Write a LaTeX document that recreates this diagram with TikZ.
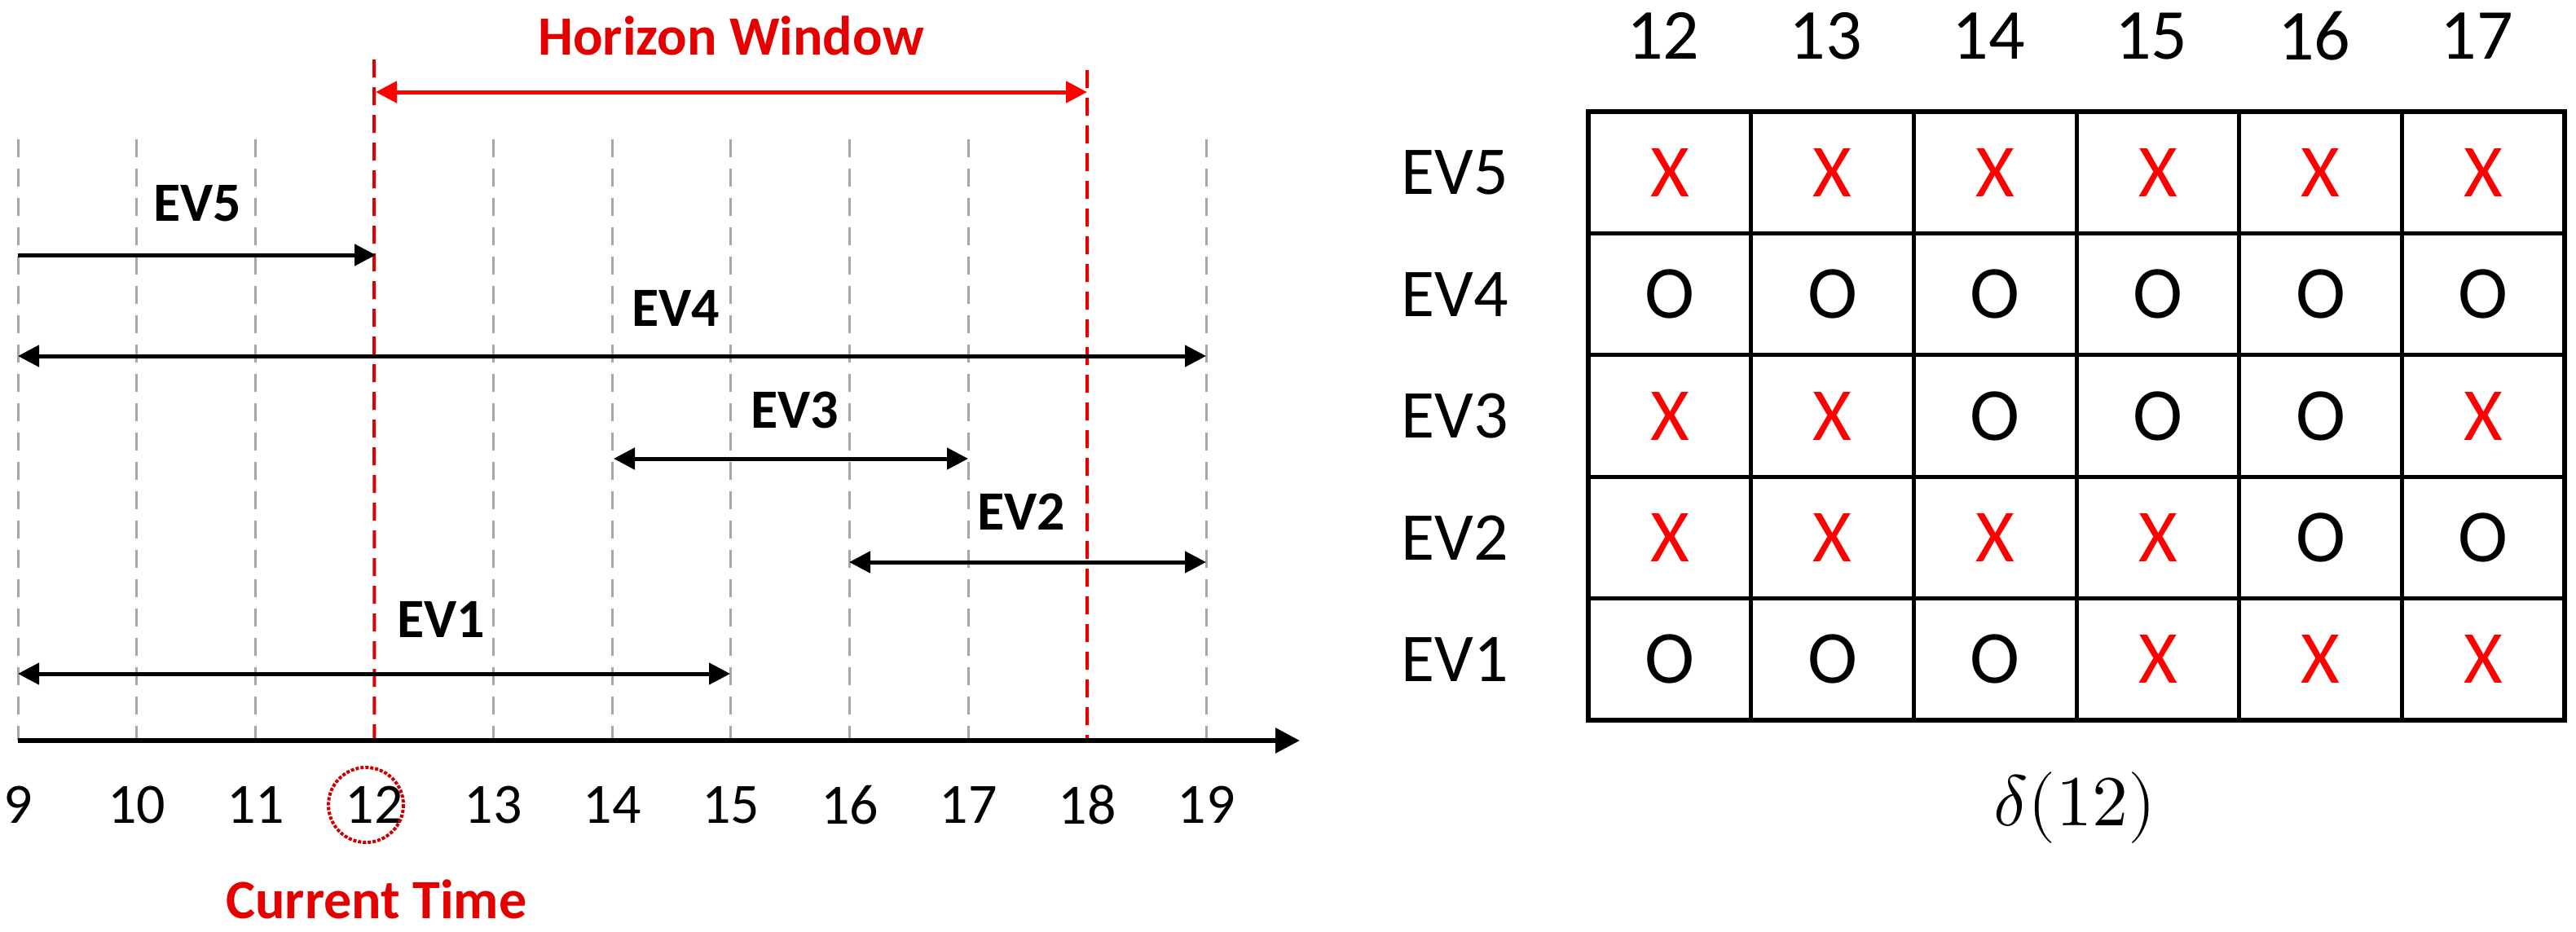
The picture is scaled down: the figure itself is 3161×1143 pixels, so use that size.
\documentclass[tikz,border=0pt]{standalone}
\usepackage{unicode-math}
\setmainfont{Carlito}
\setmathfont{Latin Modern Math}
\usetikzlibrary{arrows.meta}
\begin{document}
\begin{tikzpicture}[x=1pt,y=-1pt,
  grid/.style={gray!70,line width=3pt,dash pattern=on 22pt off 14pt},
  redline/.style={red!90!black,line width=4pt,dash pattern=on 22pt off 12pt},
  evarrow/.style={line width=5pt,{Triangle[length=26pt,width=26pt]}-{Triangle[length=26pt,width=26pt]}},
  evlab/.style={font=\fontsize{68}{70}\selectfont\bfseries},
  tick/.style={font=\fontsize{70}{72}\selectfont},
  hdr/.style={font=\fontsize{88}{90}\selectfont},
  cellx/.style={font=\fontsize{92}{94}\selectfont,text=red},
  cello/.style={font=\fontsize{92}{94}\selectfont}]
\useasboundingbox (0,0) rectangle (3161,1143);
\def\xmark{X}
% grid lines
\foreach \i in {0,...,10} {
  \pgfmathsetmacro\xx{22+145.8*\i}
  \coordinate (t\i) at (\xx,909);
  \ifnum\i=3 \else\ifnum\i=9 \else
  \draw[grid] (\xx,171) -- (t\i);
  \fi\fi
  \pgfmathtruncatemacro\lab{9+\i}
  \node[tick] (n\i) at (\xx,988) {\lab};
}
\coordinate (r12) at (459,73);
\coordinate (r18) at (1334,86);
\draw[redline] (r12) -- (t3);
\draw[redline] (r18) -- (t9);
\coordinate (axend) at (1595,909);
\draw[line width=6pt,-{Triangle[length=30pt,width=30pt]}] (t0) -- (axend);
% horizon window
\coordinate (hw1) at (461,113); \coordinate (hw2) at (1334,113);
\draw[red,line width=5pt,{Triangle[length=26pt,width=26pt]}-{Triangle[length=26pt,width=26pt]}] (hw1) -- (hw2);
\node[evlab,text=red!90!black] (hwl) at (897,44) {Horizon Window};
\draw[red!80!black,line width=4pt,dotted] (449,988) circle (46);
\node[evlab,text=red!90!black] (ct) at (462,1104) {Current Time};
% EV arrows
\coordinate (a5) at (22,313); \coordinate (b5) at (461,313);
\draw[line width=5pt,-{Triangle[length=26pt,width=26pt]}] (a5) -- (b5);
\node[evlab] (l5) at (242,250) {EV5};
\coordinate (a4) at (22,437); \coordinate (b4) at (1480,437);
\draw[evarrow] (a4) -- (b4);
\node[evlab] (l4) at (829,378) {EV4};
\coordinate (a3) at (753,563); \coordinate (b3) at (1188,563);
\draw[evarrow] (a3) -- (b3);
\node[evlab] (l3) at (975,503) {EV3};
\coordinate (a2) at (1042,690); \coordinate (b2) at (1480,690);
\draw[evarrow] (a2) -- (b2);
\node[evlab] (l2) at (1253,628) {EV2};
\coordinate (a1) at (22,827); \coordinate (b1) at (896,827);
\draw[evarrow] (a1) -- (b1);
\node[evlab] (l1) at (541,760) {EV1};
% table
\def\tl{1949} \def\tt{137} \def\cw{199.7} \def\rh{149.4}
\draw[line width=6pt] (\tl,\tt) rectangle (3147,884);
\foreach \c in {1,...,5} \draw[line width=5pt] (\tl+\c*\cw,\tt) -- (\tl+\c*\cw,884);
\foreach \r in {1,...,4} \draw[line width=5pt] (\tl,\tt+\r*\rh) -- (3147,\tt+\r*\rh);
\foreach \c/\t in {0/12,1/13,2/14,3/15,4/16,5/17}
  \node[hdr] (h\t) at (\tl+\cw*\c+\cw/2-8,44) {\t};
\foreach \r/\t in {0/EV5,1/EV4,2/EV3,3/EV2,4/EV1}
  \node[hdr,font=\fontsize{84}{86}\selectfont] (rl\r) at (1785,\tt+\rh*\r+\rh/2) {\t};
\foreach \row [count=\r from 0] in {{X,X,X,X,X,X},{O,O,O,O,O,O},{X,X,O,O,O,X},{X,X,X,X,O,O},{O,O,O,X,X,X}}{
  \foreach \v [count=\c from 0] in \row {
    \ifx\v\xmark
      \node[cellx] at (\tl+\cw*\c+\cw/2,\tt+\rh*\r+\rh/2) {X};
    \else
      \node[cello] at (\tl+\cw*\c+\cw/2,\tt+\rh*\r+\rh/2) {O};
    \fi
  }
}
\node[font=\fontsize{88}{90}\selectfont] (delta) at (2546,991) {$\delta(12)$};
\end{tikzpicture}
\end{document}
